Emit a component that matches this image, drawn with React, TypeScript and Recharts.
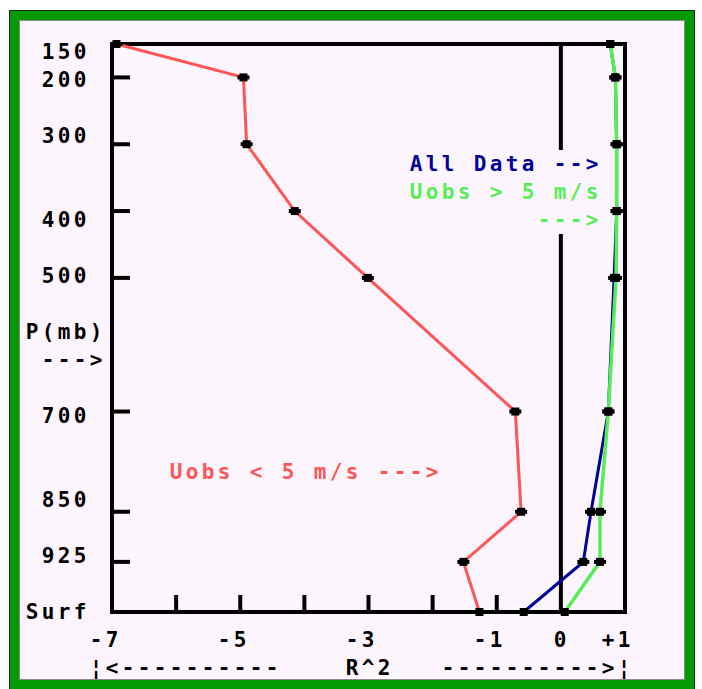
import { Line, LineChart, ReferenceArea, ReferenceLine, XAxis, YAxis } from 'recharts';

// pressure levels (mb), surface drawn at 1000
const levels = [150, 200, 300, 400, 500, 700, 850, 925, 1000];
const levelLabels = ['150', '200', '300', '400', '500', '700', '850', '925', 'Surf'];

// R^2 per level
const allData = [0.77, 0.85, 0.87, 0.87, 0.83, 0.74, 0.47, 0.35, -0.58];
const uobsAbove5 = [0.77, 0.85, 0.87, 0.87, 0.86, 0.74, 0.61, 0.61, 0.06];
const uobsBelow5 = [-6.93, -4.95, -4.9, -4.15, -3.01, -0.71, -0.62, -1.52, -1.27];

const r2Ticks = [-7, -6, -5, -4, -3, -2, -1, 0, 1];
const r2LabelValues = [-7, -5, -3, -1, 0, 1];
const r2LabelText = ['-7', '-5', '-3', '-1', '0', '+1'];

const rows = levels.map((p, i) => ({ p, all: allData[i], high: uobsAbove5[i], low: uobsBelow5[i] }));

const BG = '#fdf5fd';
const RED = '#ff5555';
const BLUE = '#000099';
const GREEN = '#55ee55';

// old text-mode layout: characters sit on a fixed cell grid
const COL0 = 24;
const COLW = 16;
const ROW0 = 52;
const ROWH = 28;
const FONT = 21;

function GridText({ col, row, text, color, bg }: { col: number; row: number; text: string; color: string; bg?: string }) {
  const x = COL0 + col * COLW;
  const y = ROW0 + row * ROWH;
  const adv = FONT * 0.602;
  return (
    <g>
      {bg && <rect x={x} y={y - ROWH / 2} width={text.length * COLW} height={ROWH} fill={bg} />}
      <text
        x={x + (COLW - adv) / 2}
        y={y}
        dominantBaseline="central"
        fill={color}
        style={{
          fontFamily: '"DejaVu Sans Mono", monospace',
          fontSize: FONT,
          fontWeight: 700,
          letterSpacing: COLW - adv,
          whiteSpace: 'pre',
        }}
      >
        {text}
      </text>
    </g>
  );
}

function PressureTick(props: any) {
  const { x, y, payload } = props;
  const i = levels.indexOf(payload.value);
  const label = levelLabels[i];
  const inner = i > 0 && i < levels.length - 1;
  return (
    <g>
      {inner && <line x1={x} x2={x + 18} y1={y} y2={y} stroke="#000" strokeWidth={4} />}
      <GridText col={4 - label.length} row={Math.round((y - ROW0) / ROWH)} text={label} color="#000" />
    </g>
  );
}

function R2Tick(props: any) {
  const { x, y, payload } = props;
  const v = payload.value;
  const i = r2LabelValues.indexOf(v);
  const mark = v > -7 && v < 0;
  return (
    <g>
      {mark && <line x1={x} x2={x} y1={y} y2={y - 17} stroke="#000" strokeWidth={4} />}
      {i >= 0 && (
        <GridText
          col={Math.floor((x - COL0 - (r2LabelText[i].length * COLW) / 2) / COLW)}
          row={21}
          text={r2LabelText[i]}
          color="#000"
        />
      )}
    </g>
  );
}

function Marker(props: any) {
  const { cx, cy, index } = props;
  if (cx == null || cy == null) return <g key={index} />;
  return (
    <g key={index} fill="#000">
      <rect x={cx - 6} y={cy - 2} width={12} height={4} />
      <rect x={cx - 4} y={cy - 4} width={8} height={8} />
    </g>
  );
}

export default function App() {
  return (
    <div style={{ position: 'absolute', left: 0, top: 0, width: 702, height: 689, background: '#fff', overflow: 'hidden' }}>
      <div
        style={{
          position: 'absolute',
          left: 9,
          top: 10,
          width: 686,
          height: 680,
          boxSizing: 'border-box',
          border: '1px solid #222',
          background: '#039a03',
          padding: 9,
        }}
      >
        <div style={{ width: '100%', height: '100%', boxSizing: 'border-box', border: '1px solid #8a8a8a', background: BG }} />
      </div>

      <div style={{ position: 'absolute', left: 0, top: 0 }}>
        <LineChart layout="vertical" width={702} height={689} data={rows} margin={{ top: 44, right: 77, bottom: 76, left: 111 }}>
          <XAxis
            type="number"
            domain={[-7, 1]}
            ticks={r2Ticks}
            interval={0}
            height={1}
            axisLine={false}
            tickLine={false}
            tickSize={0}
            tickMargin={0}
            tick={R2Tick}
          />
          <YAxis
            type="number"
            dataKey="p"
            domain={[150, 1000]}
            ticks={levels}
            interval={0}
            width={1}
            axisLine={false}
            tickLine={false}
            tickSize={0}
            tickMargin={0}
            tick={PressureTick}
          />
          <ReferenceArea x1={-7} x2={1} y1={150} y2={1000} fill="none" fillOpacity={0} stroke="#000" strokeWidth={4} />
          <ReferenceLine x={0} stroke="#000" strokeWidth={4} />
          <Line dataKey="all" stroke={BLUE} strokeWidth={3} dot={Marker} activeDot={false} isAnimationActive={false} />
          <Line dataKey="high" stroke={GREEN} strokeWidth={3.5} dot={Marker} activeDot={false} isAnimationActive={false} />
          <Line dataKey="low" stroke={RED} strokeWidth={3} dot={Marker} activeDot={false} isAnimationActive={false} />
        </LineChart>
      </div>

      <svg width={702} height={689} style={{ position: 'absolute', left: 0, top: 0, pointerEvents: 'none' }}>
        <GridText col={24} row={4} text="All Data -->" color={BLUE} bg={BG} />
        <GridText col={24} row={5} text="Uobs > 5 m/s" color={GREEN} bg={BG} />
        <GridText col={32} row={6} text="--->" color={GREEN} bg={BG} />
        <GridText col={0} row={10} text="P(mb)" color="#000" />
        <GridText col={1} row={11} text="--->" color="#000" />
        <GridText col={9} row={15} text="Uobs < 5 m/s --->" color={RED} />
        <GridText col={4} row={22} text="¦<----------" color="#000" />
        <GridText col={20} row={22} text="R^2" color="#000" />
        <GridText col={26} row={22} text="---------->¦" color="#000" />
      </svg>
    </div>
  );
}
